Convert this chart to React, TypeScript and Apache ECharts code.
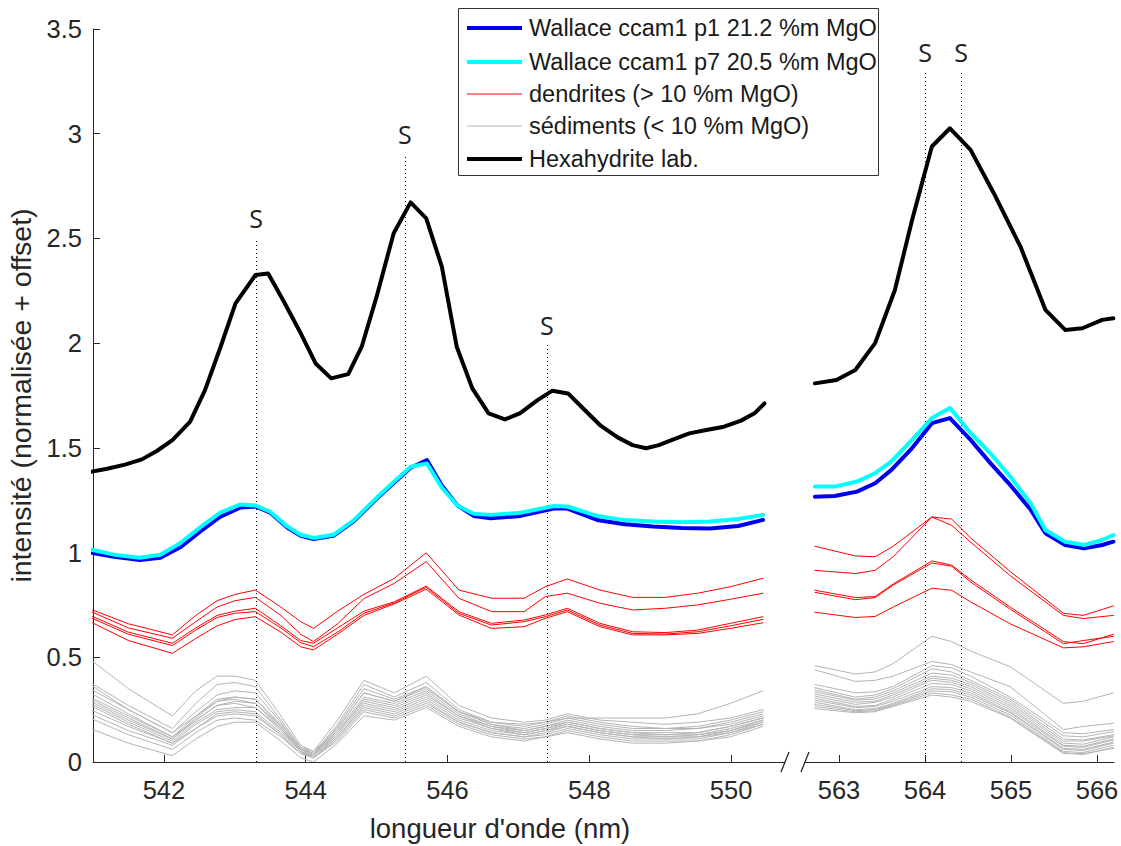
import React, { useEffect, useRef } from "react";
import * as echarts from "echarts";

// ---------- data ----------
const hexaWlLeft = [540.96, 541.2, 541.45, 541.69, 541.9, 542.12, 542.37, 542.58, 542.8, 543.01, 543.29, 543.47, 543.68, 543.93, 544.14, 544.36, 544.6, 544.79, 545.0, 545.24, 545.48, 545.7, 545.92, 546.13, 546.35, 546.58, 546.81, 547.02, 547.27, 547.48, 547.7, 547.91, 548.15, 548.4, 548.61, 548.8, 548.98, 549.16, 549.41, 549.65, 549.9, 550.14, 550.33, 550.47];
const hexaLeft = [1.385, 1.4, 1.42, 1.445, 1.485, 1.537, 1.625, 1.776, 1.983, 2.19, 2.325, 2.333, 2.206, 2.047, 1.903, 1.832, 1.852, 1.983, 2.222, 2.524, 2.672, 2.596, 2.365, 1.983, 1.784, 1.665, 1.636, 1.665, 1.728, 1.773, 1.76, 1.689, 1.609, 1.55, 1.513, 1.498, 1.513, 1.537, 1.569, 1.585, 1.601, 1.63, 1.665, 1.712];
const hexaWlRight = [562.72, 562.97, 563.19, 563.42, 563.65, 563.85, 564.08, 564.29, 564.53, 564.8, 565.11, 565.4, 565.63, 565.83, 566.06, 566.19];
const hexaRight = [1.808, 1.824, 1.872, 2.0, 2.254, 2.588, 2.939, 3.026, 2.923, 2.716, 2.461, 2.159, 2.063, 2.071, 2.111, 2.119];

const ccWlLeft = [540.96, 541.3, 541.66, 541.95, 542.23, 542.51, 542.79, 543.08, 543.29, 543.5, 543.74, 543.93, 544.11, 544.39, 544.68, 545.01, 545.25, 545.48, 545.71, 545.92, 546.14, 546.37, 546.61, 547.03, 547.5, 547.69, 548.11, 548.5, 548.9, 549.3, 549.7, 550.1, 550.45];
const p1Left = [1.0, 0.98, 0.965, 0.975, 1.025, 1.1, 1.17, 1.215, 1.22, 1.19, 1.12, 1.08, 1.065, 1.08, 1.15, 1.26, 1.335, 1.405, 1.442, 1.32, 1.225, 1.175, 1.164, 1.175, 1.21, 1.21, 1.156, 1.135, 1.124, 1.117, 1.115, 1.127, 1.156];
const p7Left = [1.015, 0.99, 0.975, 0.99, 1.045, 1.12, 1.19, 1.23, 1.225, 1.195, 1.125, 1.085, 1.07, 1.085, 1.155, 1.265, 1.34, 1.41, 1.425, 1.31, 1.225, 1.185, 1.18, 1.19, 1.222, 1.22, 1.175, 1.155, 1.148, 1.145, 1.148, 1.16, 1.18];
const ccWlRight = [562.72, 562.95, 563.21, 563.42, 563.61, 563.85, 564.08, 564.29, 564.53, 564.76, 564.99, 565.23, 565.4, 565.63, 565.85, 566.06, 566.19];
const p1Right = [1.267, 1.27, 1.291, 1.331, 1.395, 1.499, 1.618, 1.642, 1.538, 1.427, 1.323, 1.204, 1.092, 1.036, 1.02, 1.036, 1.052];
const p7Right = [1.315, 1.315, 1.339, 1.379, 1.435, 1.538, 1.642, 1.69, 1.571, 1.474, 1.363, 1.235, 1.108, 1.052, 1.036, 1.06, 1.084];

const spotWlLeft = [540.96, 541.5, 542.12, 542.45, 542.75, 543.0, 543.29, 543.65, 543.93, 544.11, 544.45, 544.82, 545.25, 545.7, 546.16, 546.62, 547.08, 547.38, 547.69, 548.15, 548.61, 549.07, 549.53, 549.99, 550.45];
const spotWlRight = [562.72, 563.19, 563.42, 563.63, 564.08, 564.31, 564.53, 564.99, 565.61, 565.84, 566.19];

const dendritesLeft = [
  [0.73, 0.66, 0.607, 0.7, 0.77, 0.8, 0.821, 0.74, 0.67, 0.638, 0.72, 0.8, 0.877, 0.999, 0.821, 0.782, 0.782, 0.837, 0.874, 0.821, 0.786, 0.786, 0.806, 0.837, 0.877],
  [0.72, 0.64, 0.591, 0.67, 0.74, 0.77, 0.786, 0.7, 0.61, 0.575, 0.66, 0.78, 0.853, 0.957, 0.782, 0.718, 0.718, 0.79, 0.806, 0.758, 0.726, 0.734, 0.75, 0.777, 0.806],
  [0.7, 0.62, 0.567, 0.64, 0.7, 0.72, 0.734, 0.65, 0.58, 0.567, 0.64, 0.72, 0.765, 0.84, 0.718, 0.662, 0.678, 0.702, 0.734, 0.662, 0.622, 0.618, 0.63, 0.662, 0.694],
  [0.69, 0.61, 0.556, 0.63, 0.69, 0.71, 0.718, 0.64, 0.57, 0.551, 0.62, 0.71, 0.76, 0.834, 0.71, 0.654, 0.67, 0.694, 0.726, 0.654, 0.614, 0.611, 0.622, 0.65, 0.681],
  [0.67, 0.58, 0.519, 0.59, 0.65, 0.68, 0.694, 0.62, 0.55, 0.535, 0.61, 0.7, 0.755, 0.825, 0.702, 0.638, 0.646, 0.686, 0.718, 0.646, 0.607, 0.607, 0.614, 0.638, 0.665],
];
const dendritesRight = [
  [1.03, 0.984, 0.98, 1.03, 1.17, 1.16, 1.07, 0.91, 0.71, 0.7, 0.745],
  [0.915, 0.9, 0.915, 0.98, 1.17, 1.13, 1.05, 0.89, 0.7, 0.685, 0.7],
  [0.82, 0.785, 0.79, 0.85, 0.96, 0.94, 0.87, 0.74, 0.575, 0.565, 0.61],
  [0.81, 0.775, 0.785, 0.845, 0.95, 0.935, 0.86, 0.73, 0.565, 0.58, 0.6],
  [0.715, 0.69, 0.695, 0.74, 0.83, 0.82, 0.765, 0.66, 0.545, 0.55, 0.575],
];

const sedimentsLeft = [
  [0.49, 0.35, 0.22, 0.34, 0.41, 0.41, 0.39, 0.22, 0.08, 0.05, 0.2, 0.39, 0.33, 0.41, 0.27, 0.21, 0.19, 0.2, 0.23, 0.2, 0.19, 0.18, 0.19, 0.21, 0.25],
  [0.38, 0.27, 0.16, 0.28, 0.37, 0.38, 0.36, 0.2, 0.07, 0.04, 0.18, 0.37, 0.31, 0.38, 0.25, 0.19, 0.17, 0.19, 0.22, 0.19, 0.17, 0.16, 0.17, 0.2, 0.24],
  [0.37, 0.25, 0.14, 0.24, 0.32, 0.34, 0.33, 0.19, 0.06, 0.03, 0.17, 0.35, 0.3, 0.36, 0.24, 0.18, 0.16, 0.18, 0.21, 0.18, 0.16, 0.16, 0.16, 0.19, 0.23],
  [0.35, 0.25, 0.14, 0.22, 0.3, 0.31, 0.3, 0.18, 0.07, 0.05, 0.16, 0.33, 0.29, 0.35, 0.24, 0.18, 0.15, 0.17, 0.2, 0.17, 0.15, 0.15, 0.16, 0.18, 0.22],
  [0.33, 0.23, 0.12, 0.22, 0.29, 0.3, 0.28, 0.17, 0.06, 0.04, 0.15, 0.31, 0.28, 0.34, 0.23, 0.17, 0.15, 0.17, 0.19, 0.16, 0.14, 0.14, 0.14, 0.17, 0.21],
  [0.31, 0.22, 0.12, 0.2, 0.27, 0.29, 0.28, 0.16, 0.05, 0.03, 0.14, 0.3, 0.27, 0.33, 0.22, 0.16, 0.14, 0.16, 0.19, 0.16, 0.14, 0.13, 0.14, 0.17, 0.21],
  [0.3, 0.21, 0.11, 0.2, 0.27, 0.28, 0.26, 0.16, 0.06, 0.04, 0.14, 0.29, 0.26, 0.32, 0.22, 0.17, 0.14, 0.16, 0.18, 0.15, 0.13, 0.13, 0.13, 0.16, 0.2],
  [0.28, 0.19, 0.1, 0.19, 0.25, 0.26, 0.26, 0.15, 0.05, 0.03, 0.13, 0.28, 0.25, 0.31, 0.21, 0.16, 0.13, 0.15, 0.18, 0.15, 0.13, 0.12, 0.13, 0.15, 0.2],
  [0.27, 0.18, 0.09, 0.18, 0.24, 0.25, 0.24, 0.14, 0.05, 0.02, 0.12, 0.27, 0.24, 0.3, 0.2, 0.15, 0.13, 0.15, 0.17, 0.14, 0.12, 0.12, 0.12, 0.15, 0.19],
  [0.25, 0.17, 0.09, 0.16, 0.23, 0.24, 0.23, 0.13, 0.04, 0.03, 0.12, 0.26, 0.23, 0.29, 0.19, 0.14, 0.12, 0.14, 0.17, 0.14, 0.12, 0.11, 0.12, 0.14, 0.19],
  [0.23, 0.15, 0.08, 0.16, 0.22, 0.23, 0.22, 0.13, 0.04, 0.02, 0.11, 0.25, 0.22, 0.28, 0.19, 0.14, 0.12, 0.13, 0.16, 0.13, 0.11, 0.11, 0.11, 0.14, 0.18],
  [0.21, 0.13, 0.06, 0.14, 0.2, 0.21, 0.2, 0.12, 0.04, 0.02, 0.1, 0.24, 0.21, 0.27, 0.18, 0.13, 0.11, 0.12, 0.15, 0.12, 0.1, 0.1, 0.1, 0.13, 0.18],
  [0.16, 0.09, 0.03, 0.11, 0.17, 0.19, 0.19, 0.1, 0.02, 0.0, 0.09, 0.22, 0.2, 0.26, 0.17, 0.12, 0.1, 0.12, 0.14, 0.11, 0.09, 0.09, 0.1, 0.12, 0.17],
  [0.29, 0.2, 0.11, 0.21, 0.29, 0.31, 0.3, 0.17, 0.06, 0.04, 0.16, 0.33, 0.29, 0.36, 0.24, 0.19, 0.18, 0.19, 0.21, 0.21, 0.21, 0.21, 0.23, 0.28, 0.34],
];
const sedimentsRight = [
  [0.46, 0.42, 0.43, 0.47, 0.6, 0.575, 0.53, 0.455, 0.28, 0.29, 0.33],
  [0.44, 0.385, 0.39, 0.41, 0.48, 0.465, 0.43, 0.36, 0.155, 0.17, 0.185],
  [0.37, 0.33, 0.335, 0.36, 0.46, 0.45, 0.41, 0.31, 0.14, 0.135, 0.155],
  [0.355, 0.31, 0.32, 0.35, 0.445, 0.43, 0.39, 0.3, 0.125, 0.12, 0.145],
  [0.345, 0.3, 0.31, 0.34, 0.425, 0.415, 0.38, 0.29, 0.11, 0.105, 0.13],
  [0.335, 0.295, 0.3, 0.33, 0.41, 0.4, 0.37, 0.28, 0.1, 0.1, 0.125],
  [0.325, 0.285, 0.29, 0.32, 0.4, 0.39, 0.36, 0.27, 0.09, 0.085, 0.12],
  [0.315, 0.275, 0.285, 0.31, 0.39, 0.38, 0.35, 0.26, 0.08, 0.075, 0.11],
  [0.305, 0.265, 0.27, 0.3, 0.375, 0.37, 0.34, 0.25, 0.075, 0.07, 0.105],
  [0.295, 0.26, 0.265, 0.29, 0.36, 0.355, 0.33, 0.24, 0.065, 0.06, 0.095],
  [0.285, 0.25, 0.255, 0.28, 0.35, 0.345, 0.32, 0.235, 0.06, 0.055, 0.09],
  [0.275, 0.245, 0.25, 0.275, 0.34, 0.335, 0.31, 0.225, 0.05, 0.045, 0.08],
  [0.265, 0.24, 0.245, 0.27, 0.33, 0.32, 0.3, 0.215, 0.045, 0.035, 0.07],
  [0.255, 0.235, 0.24, 0.265, 0.32, 0.31, 0.29, 0.21, 0.04, 0.04, 0.065],
];

// S markers: wavelength and top of dotted line
const sWlLeft = [543.3, 545.4, 547.4];
const sTopLeft = [2.5, 2.9, 1.99];
const sWlRight = [564.0, 564.42];
const sTopRight = [3.29, 3.29];

const xTicksLeft = [542, 544, 546, 548, 550];
const xTicksRight = [563, 564, 565, 566];

const NAME_P1 = "Wallace ccam1 p1 21.2 %m MgO";
const NAME_P7 = "Wallace ccam1 p7 20.5 %m MgO";
const NAME_DEN = "dendrites (> 10 %m MgO)";
const NAME_SED = "sédiments (< 10 %m MgO)";
const NAME_HEX = "Hexahydrite lab.";
const legendNames = [NAME_P1, NAME_P7, NAME_DEN, NAME_SED, NAME_HEX];

const C_BLUE = "#0000f0";
const C_CYAN = "#00ffff";
const C_RED = "#ff0000";
const C_GREY = "#b4b4b4";
const C_BLACK = "#000000";
const legendColors = [C_BLUE, C_CYAN, C_RED, C_GREY, C_BLACK];
const legendWidths = [4, 4, 1, 1, 4];

const FONT = '"Liberation Sans", Arial, Helvetica, sans-serif';
const AXC = "#262626";

export default function App() {
  const ref = useRef<HTMLDivElement>(null);

  useEffect(() => {
    const chart = echarts.init(ref.current!, null, { renderer: "svg" });
    const zip = (xs: number[], ys: number[]) => xs.map((x, i) => [x, ys[i]]);
    const series: any[] = [];
    const add = (name: string, idx: number, data: number[][], color: string, width: number, z: number, extra: any = {}) => {
      series.push({
        type: "line",
        name,
        xAxisIndex: idx,
        yAxisIndex: idx,
        data,
        symbol: "none",
        showSymbol: false,
        silent: true,
        lineStyle: { color, width, join: "round", cap: "round" },
        itemStyle: { color },
        z,
        ...extra,
      });
    };

    sedimentsLeft.forEach((v) => add(NAME_SED, 0, zip(spotWlLeft, v), C_GREY, 1, 2));
    sedimentsRight.forEach((v) => add(NAME_SED, 1, zip(spotWlRight, v), C_GREY, 1, 2));
    dendritesLeft.forEach((v) => add(NAME_DEN, 0, zip(spotWlLeft, v), C_RED, 1, 3));
    dendritesRight.forEach((v) => add(NAME_DEN, 1, zip(spotWlRight, v), C_RED, 1, 3));
    add(NAME_P1, 0, zip(ccWlLeft, p1Left), C_BLUE, 4, 4);
    add(NAME_P1, 1, zip(ccWlRight, p1Right), C_BLUE, 4, 4);
    add(NAME_P7, 0, zip(ccWlLeft, p7Left), C_CYAN, 4, 5);
    add(NAME_P7, 1, zip(ccWlRight, p7Right), C_CYAN, 4, 5);

    const mark = (wls: number[], tops: number[]) => ({
      silent: true,
      symbol: ["none", "none"],
      lineStyle: { type: [1, 3], color: "#000", width: 1 },
      label: {
        show: true,
        position: "end",
        formatter: "S",
        fontSize: 25,
        fontFamily: '"Open Sans", "Noto Sans", sans-serif',
        color: "#222",
        distance: 8,
      },
      data: wls.map((w, i) => [{ coord: [w, 0] }, { coord: [w, tops[i]] }]),
    });
    add(NAME_HEX, 0, zip(hexaWlLeft, hexaLeft), C_BLACK, 4, 6, { markLine: mark(sWlLeft, sTopLeft) });
    add(NAME_HEX, 1, zip(hexaWlRight, hexaRight), C_BLACK, 4, 6, { markLine: mark(sWlRight, sTopRight) });

    const tickLabel = { fontSize: 25.5, color: AXC, fontFamily: FONT };
    const legendGraphic: any[] = [
      {
        type: "rect",
        shape: { x: 458.5, y: 8.5, width: 420, height: 167 },
        style: { fill: "#fff", stroke: "#333", lineWidth: 1 },
        z: 100,
      },
    ];
    const rowsY = [28, 62, 94, 126, 159];
    legendNames.forEach((n, i) => {
      legendGraphic.push({
        type: "line",
        shape: { x1: 467, y1: rowsY[i], x2: 522, y2: rowsY[i] },
        style: { stroke: legendColors[i], lineWidth: legendWidths[i] },
        z: 101,
      });
      legendGraphic.push({
        type: "text",
        x: 529,
        y: rowsY[i],
        style: { text: n, fontSize: 23.5, fontFamily: FONT, fill: "#1a1a1a", textVerticalAlign: "middle", textAlign: "left" },
        z: 101,
      });
    });

    chart.setOption({
      animation: false,
      backgroundColor: "#ffffff",
      grid: [
        { left: 93, top: 29, width: 692, height: 733, outerBoundsMode: "none", containLabel: false },
        { left: 805, top: 29, width: 309, height: 733, outerBoundsMode: "none", containLabel: false },
      ],
      xAxis: [
        {
          type: "value",
          gridIndex: 0,
          min: 541,
          max: 541 + 692 / 70.9,
          axisLine: { show: true, lineStyle: { color: AXC, width: 1 } },
          axisTick: { show: true, inside: true, length: 7, customValues: xTicksLeft, lineStyle: { color: AXC } },
          axisLabel: { ...tickLabel, margin: 15, customValues: xTicksLeft },
          splitLine: { show: false },
        },
        {
          type: "value",
          gridIndex: 1,
          min: 563 - 34 / 86,
          max: 563 - 34 / 86 + 309 / 86,
          axisLine: { show: true, lineStyle: { color: AXC, width: 1 } },
          axisTick: { show: true, inside: true, length: 7, customValues: xTicksRight, lineStyle: { color: AXC } },
          axisLabel: { ...tickLabel, margin: 15, customValues: xTicksRight },
          splitLine: { show: false },
        },
      ],
      yAxis: [
        {
          type: "value",
          gridIndex: 0,
          min: 0,
          max: 3.5,
          interval: 0.5,
          name: "intensité (normalisée + offset)",
          nameLocation: "middle",
          nameGap: 55,
          nameTextStyle: { fontSize: 28.5, color: AXC, fontFamily: FONT },
          axisLine: { show: true, lineStyle: { color: AXC, width: 1 } },
          axisTick: { show: true, inside: true, length: 7, lineStyle: { color: AXC } },
          axisLabel: { ...tickLabel, margin: 11 },
          splitLine: { show: false },
        },
        {
          type: "value",
          gridIndex: 1,
          min: 0,
          max: 3.5,
          interval: 0.5,
          show: false,
          splitLine: { show: false },
        },
      ],
      series,
      graphic: [
        {
          type: "line",
          shape: { x1: 781, y1: 772, x2: 789, y2: 752 },
          style: { stroke: AXC, lineWidth: 1.3 },
        },
        {
          type: "line",
          shape: { x1: 801, y1: 772, x2: 809, y2: 752 },
          style: { stroke: AXC, lineWidth: 1.3 },
        },
        {
          type: "text",
          x: 500,
          y: 828,
          style: {
            text: "longueur d'onde (nm)",
            fontSize: 27.5,
            fontFamily: FONT,
            fill: AXC,
            textAlign: "center",
            textVerticalAlign: "middle",
          },
        },
        ...legendGraphic,
      ],
    });

    return () => chart.dispose();
  }, []);

  return (
    <div
      ref={ref}
      style={{ position: "fixed", left: 0, top: 0, width: 1121, height: 846, background: "#fff" }}
    />
  );
}
